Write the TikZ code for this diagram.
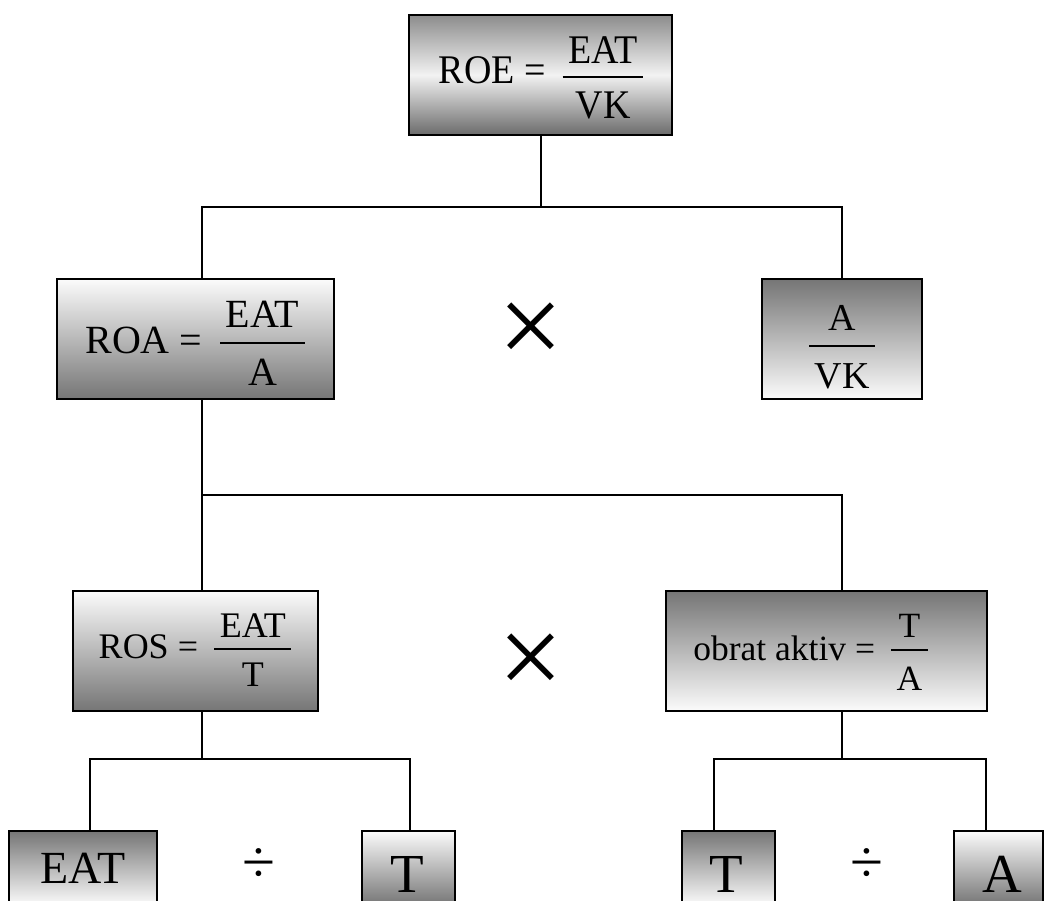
\documentclass[tikz,border=0pt]{standalone}
\usepackage{fontspec}
\usepackage{graphicx}
\setmainfont{Liberation Serif}
\newsavebox\frnum
\newsavebox\frden
\newdimen\frw
\newcommand\fr[5]{%
  \sbox\frnum{#1}\sbox\frden{#2}%
  \frw=\wd\frnum
  \ifdim\wd\frden>\frw \frw=\wd\frden\fi
  \advance\frw by 11pt
  \raisebox{#3}{%
    \rlap{\raisebox{#4}{\makebox[\frw]{\usebox\frnum}}}%
    \rlap{\rule[-1pt]{\frw}{2pt}}%
    \raisebox{-#5}{\makebox[\frw]{\usebox\frden}}}%
}
\newcommand\st[1]{\scalebox{1}[1.07]{#1}}
\newcommand\fs[1]{\fontsize{#1}{#1}\selectfont}
\definecolor{boxdark}{gray}{0.46}
\definecolor{boxlight}{gray}{0.985}
\definecolor{roetop}{gray}{0.55}
\definecolor{roemid}{gray}{0.95}
\definecolor{roebot}{gray}{0.42}
\begin{document}
\begin{tikzpicture}[x=1pt,y=-1pt,
  box/.style={draw=black, line width=2.2pt, inner sep=0pt, shading=axis},
  lt/.style={top color=boxlight, bottom color=boxdark},
  dt/.style={top color=boxdark, bottom color=boxlight},
  lbl/.style={anchor=base, inner sep=0pt, text=black},
  conn/.style={line width=2pt, line cap=rect},
  sym/.style={anchor=center, inner sep=0pt, text=black}]
\clip (0,0) rectangle (1044,900);
\fill[white] (0,0) rectangle (1044,900);

% boxes
\node[box, top color=roetop, bottom color=roebot, middle color=roemid,
      minimum width=263pt, minimum height=120pt] (roe) at (540.5,75) {};
\node[box, lt, minimum width=277pt, minimum height=120pt] (roa) at (195.5,339) {};
\node[box, dt, minimum width=160pt, minimum height=120pt] (avk) at (842,339) {};
\node[box, lt, minimum width=245pt, minimum height=120pt] (ros) at (195.5,651) {};
\node[box, dt, minimum width=321pt, minimum height=120pt] (obr) at (826.5,651) {};
\node[box, dt, minimum width=148pt, minimum height=74pt] (eat) at (83,868) {};
\node[box, lt, minimum width=93pt, minimum height=74pt] (t1) at (408.5,868) {};
\node[box, dt, minimum width=93pt, minimum height=74pt] (t2) at (728.5,868) {};
\node[box, lt, minimum width=89pt, minimum height=74pt] (a) at (998.5,868) {};

% labels
\node[lbl, font=\fs{38}] (roet) at (541,83) {\st{ROE} \st{=}\hspace{0.45em}\fr{\st{EAT}}{\st{VK}}{6pt}{14pt}{41pt}};
\node[lbl, font=\fs{40}] (roat) at (195,353) {ROA =\hspace{0.45em}\fr{EAT}{A}{10pt}{16pt}{42pt}};
\node[lbl, font=\fs{38}] (avkt) at (842,346) {\fr{A}{VK}{0pt}{16pt}{42pt}};
\node[lbl, font=\fs{36}] (rost) at (195,658) {ROS =\hspace{0.45em}\fr{EAT}{T}{9pt}{12pt}{37pt}};
\node[lbl, font=\fs{35.5}] (obrt) at (810.5,660) {obrat aktiv =\hspace{0.45em}\fr{T}{A}{10pt}{13pt}{40pt}};
\node[lbl, font=\fs{46}] (eatt) at (83,883) {EAT};
\node[lbl, font=\fs{55}] (t1t) at (407,892) {T};
\node[lbl, font=\fs{55}] (t2t) at (726,892) {T};
\node[lbl, font=\fs{55}] (at) at (1002,892) {A};

% operators
\node[sym, font=\fs{115}] (x1) at (531,334) {×};
\node[sym, font=\fs{115}] (x2) at (531,665) {×};
\node[sym, font=\fs{60}] (d1) at (259,866) {÷};
\node[sym, font=\fs{60}] (d2) at (867,866) {÷};

% connectors
\coordinate (h1l) at (202,207);
\coordinate (h1r) at (842,207);
\coordinate (h2l) at (202,495);
\coordinate (h2r) at (842,495);
\coordinate (h3l) at (90,759);
\coordinate (h3m) at (202,759);
\coordinate (h3r) at (410,759);
\coordinate (h4l) at (714,759);
\coordinate (h4m) at (842,759);
\coordinate (h4r) at (986,759);

\draw[conn] (roe.south) -- (roe.south |- h1l);
\draw[conn] (roa.north -| h1l) -- (h1l) -- (h1r) -- (avk.north);
\draw[conn] (roa.south -| h2l) -- (h2l);
\draw[conn] (ros.north -| h2l) -- (h2l) -- (h2r) -- (obr.north -| h2r);
\draw[conn] (ros.south -| h3m) -- (h3m);
\draw[conn] (eat.north -| h3l) -- (h3l) -- (h3r) -- (t1.north -| h3r);
\draw[conn] (obr.south -| h4m) -- (h4m);
\draw[conn] (t2.north -| h4l) -- (h4l) -- (h4r) -- (a.north -| h4r);
\end{tikzpicture}
\end{document}
